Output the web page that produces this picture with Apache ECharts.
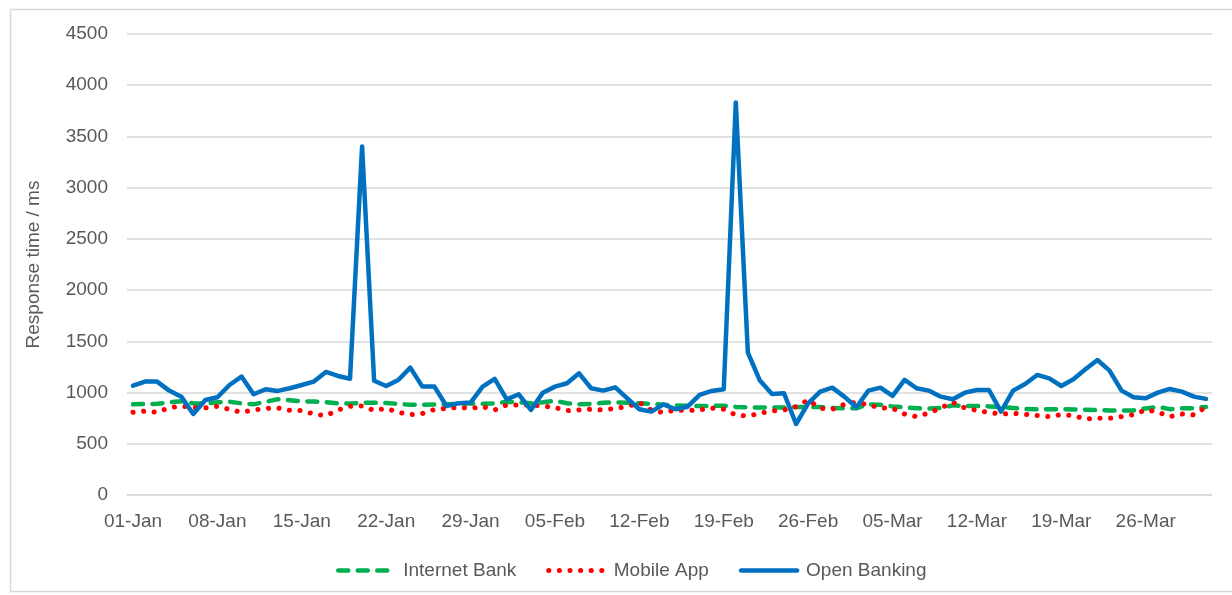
<!DOCTYPE html>
<html><head><meta charset="utf-8">
<script src="https://cdn.jsdelivr.net/npm/echarts@6/dist/echarts.min.js"></script>
<style>html,body{margin:0;padding:0;background:#fff}#c{width:1232px;height:595px}</style>
</head><body><div id="c"></div><script>
// Categories: daily, 01-Jan .. 31-Mar
const monthNames = ['Jan', 'Feb', 'Mar'];
const monthLengths = [31, 28, 31];
const categories = [];
monthNames.forEach((m, k) => { for (let d = 1; d <= monthLengths[k]; d++) categories.push((d < 10 ? '0' : '') + d + '-' + m); });

const seriesNames = ['Internet Bank', 'Mobile App', 'Open Banking'];

const internetBank = [
  885,888,890,905,915,895,893,905,910,895,
  885,910,935,925,915,912,905,895,893,900,
  900,898,890,880,880,883,885,890,895,890,
  895,910,905,895,905,920,895,885,890,900,
  905,900,895,890,880,875,870,868,870,872,
  860,855,855,853,855,860,860,858,850,846,
  846,885,880,865,855,846,845,850,875,868,
  868,865,860,850,840,836,838,837,835,833,
  828,826,825,826,845,860,838,848,848,860];

const mobileApp = [
  807,820,807,853,868,855,850,866,835,807,
  830,845,850,826,826,790,775,830,866,870,
  825,846,807,785,795,835,845,855,846,862,
  830,879,879,879,869,853,824,830,837,830,
  846,862,902,830,804,830,824,830,849,837,
  781,771,797,820,830,862,928,846,837,885,
  905,880,850,846,790,765,800,850,905,850,
  825,805,790,797,788,775,765,785,775,742,
  750,749,765,785,830,810,765,790,782,860];

const openBanking = [
  1067,1107,1107,1019,960,791,928,954,1074,1156,
  983,1032,1016,1042,1074,1107,1201,1162,1135,3402,
  1115,1064,1123,1243,1058,1058,869,895,902,1058,
  1133,934,983,830,999,1058,1091,1188,1042,1019,
  1051,944,837,814,885,837,862,977,1016,1032,
  3831,1390,1117,986,993,693,895,1009,1048,960,
  856,1019,1048,967,1123,1042,1019,960,934,999,
  1025,1025,814,1019,1084,1172,1139,1064,1130,1227,
  1318,1214,1019,954,944,999,1035,1009,960,938];

const yTicks = { min: 0, max: 4500, interval: 500 };

const FONT = 'Liberation Sans';
const GREY = '#595959';
const COLORS = ['#00B050', '#FF0000', '#0070C0'];
const LINESTYLES = [
  { color: COLORS[0], width: 4.5, type: [10, 9.5], cap: 'round', join: 'round' },
  { color: COLORS[1], width: 5, type: [0.1, 10.5], cap: 'round', join: 'round' },
  { color: COLORS[2], width: 4.5, type: 'solid', cap: 'round', join: 'round' }
];
const seriesData = [internetBank, mobileApp, openBanking];

const chart = echarts.init(document.getElementById('c'), null, { renderer: 'canvas' });
chart.setOption({
  animation: false,
  backgroundColor: '#fff',
  graphic: [{
    type: 'rect', left: 8, top: 7,
    shape: { width: 1240, height: 582 },
    style: { fill: 'none', stroke: '#d9d9d9', lineWidth: 1.5 }, silent: true
  }],
  grid: { left: 127, right: 20, top: 34, bottom: 100 },
  legend: {
    left: 331, top: 556,
    itemWidth: 56, itemHeight: 14, itemGap: 30,
    textStyle: { fontFamily: FONT, fontSize: 19, color: GREY, padding: [0, 0, 0, 4] },
    data: seriesNames.map((n, i) => ({
      name: n,
      itemStyle: { opacity: 0 },
      lineStyle: Object.assign({}, LINESTYLES[i])
    }))
  },
  xAxis: {
    type: 'category', data: categories, boundaryGap: true,
    axisLine: { lineStyle: { color: '#d9d9d9', width: 1.5 } },
    axisTick: { show: false },
    axisLabel: { interval: 6, margin: 17, fontFamily: FONT, fontSize: 19, color: GREY },
    splitLine: { show: false }
  },
  yAxis: {
    type: 'value', min: yTicks.min, max: yTicks.max, interval: yTicks.interval,
    name: 'Response time / ms', nameLocation: 'middle', nameGap: 84,
    nameTextStyle: { fontFamily: FONT, fontSize: 19, color: GREY },
    axisLine: { show: false }, axisTick: { show: false },
    axisLabel: { margin: 19, fontFamily: FONT, fontSize: 19, color: GREY, formatter: v => String(v) },
    splitLine: { lineStyle: { color: '#d9d9d9', width: 1.5 } }
  },
  series: seriesNames.map((n, i) => ({
    name: n, type: 'line', data: seriesData[i], symbol: 'none',
    itemStyle: { color: COLORS[i] },
    lineStyle: LINESTYLES[i]
  }))
});
</script></body></html>
